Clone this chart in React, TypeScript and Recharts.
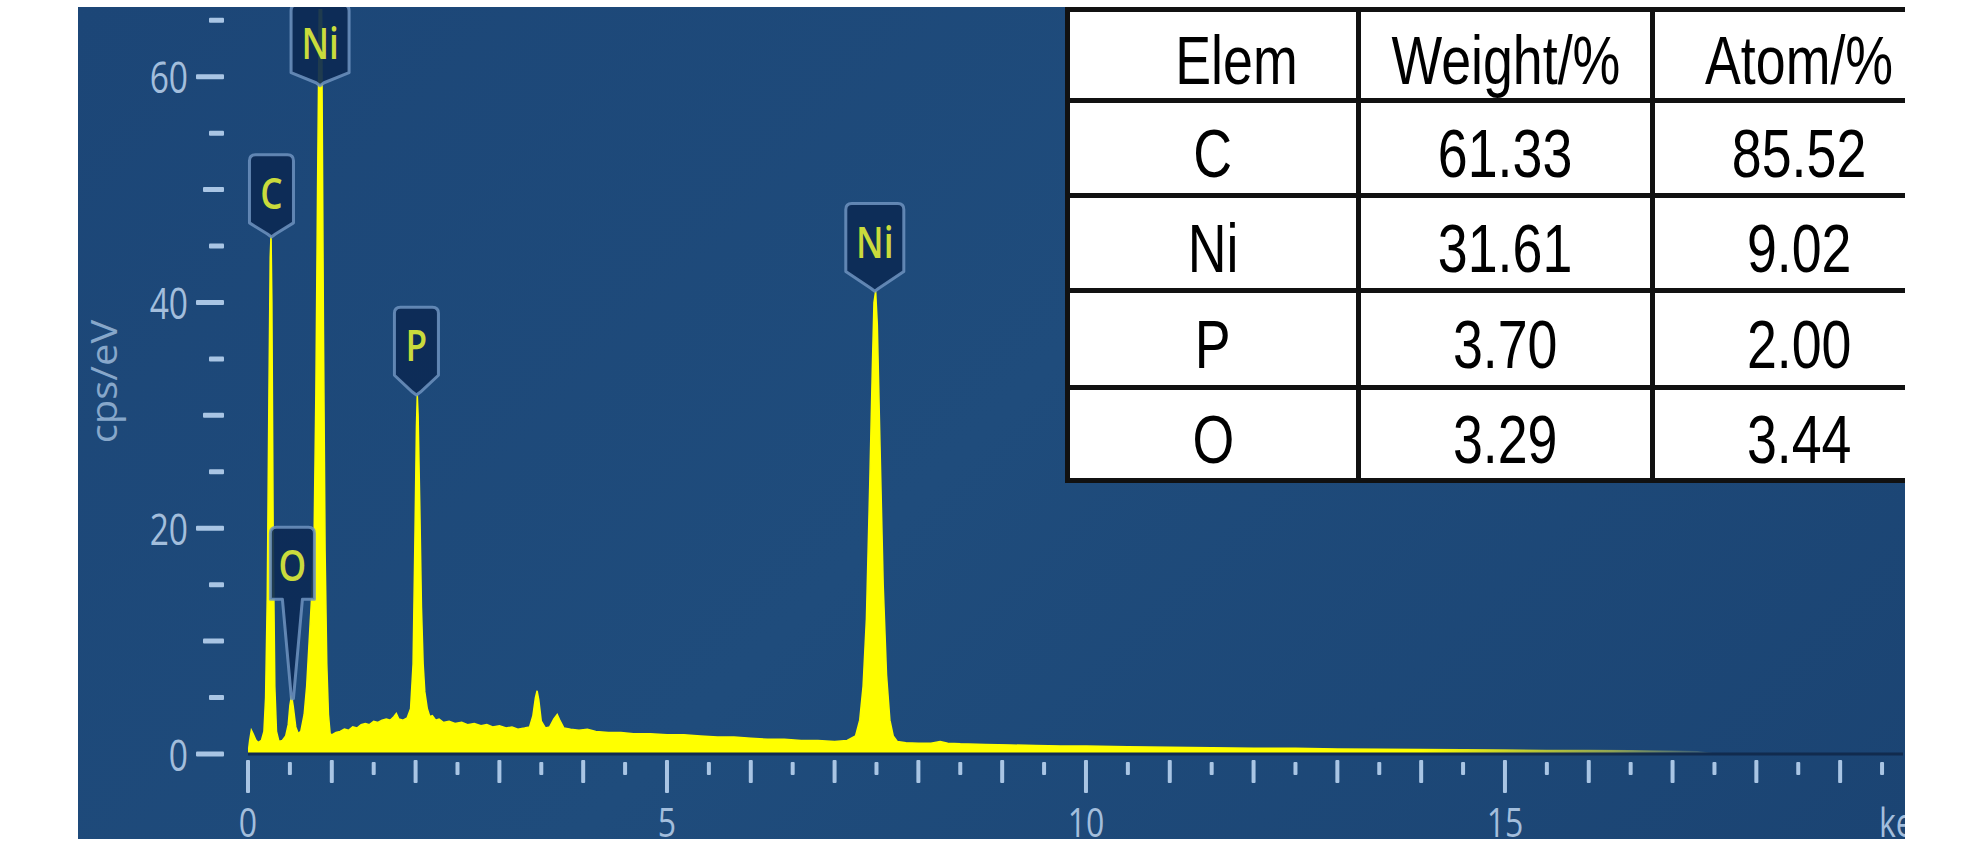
import { ComposedChart, Area, XAxis, YAxis, ReferenceDot } from "recharts";

// EDS spectrum (keV vs cps/eV)
const energy = [
  0.0, 0.02, 0.04, 0.06, 0.09, 0.12, 0.16, 0.19, 0.21, 0.23, 0.25, 0.265, 0.275, 0.285, 0.3, 0.32, 0.34, 0.37,
  0.41, 0.45, 0.48, 0.5, 0.52, 0.54, 0.57, 0.6, 0.63, 0.67, 0.7, 0.73, 0.76, 0.79, 0.81, 0.83, 0.85, 0.86,
  0.87, 0.88, 0.9, 0.92, 0.94, 0.96, 0.98, 1.0, 1.05, 1.1, 1.15, 1.2, 1.25, 1.3, 1.35, 1.4, 1.45, 1.5, 1.55,
  1.6, 1.65, 1.7, 1.74, 1.77, 1.8, 1.85, 1.9, 1.94, 1.97, 1.99, 2.01, 2.02, 2.03, 2.05, 2.07, 2.09, 2.11, 2.14,
  2.17, 2.2, 2.24, 2.28, 2.33, 2.4, 2.47, 2.55, 2.62, 2.7, 2.78, 2.85, 2.92, 3.0, 3.08, 3.15, 3.22, 3.3, 3.36,
  3.4, 3.43, 3.45, 3.47, 3.5, 3.55, 3.6, 3.65, 3.69, 3.72, 3.77, 3.85, 3.95, 4.05, 4.15, 4.3, 4.45, 4.6, 4.8,
  5.0, 5.2, 5.4, 5.6, 5.8, 6.0, 6.2, 6.4, 6.6, 6.8, 7.0, 7.15, 7.25, 7.3, 7.34, 7.38, 7.42, 7.45, 7.47, 7.49,
  7.51, 7.54, 7.58, 7.62, 7.66, 7.7, 7.75, 7.85, 8.0, 8.15, 8.26, 8.35, 8.5, 8.8, 9.1, 9.4, 9.7, 10.0, 10.5,
  11.0, 11.5, 12.0, 12.5, 13.0, 13.5, 14.0, 14.5, 15.0, 15.5, 16.0, 16.5, 17.0, 17.3, 17.5,
];
const counts = [
  0, 1.2, 2.1, 1.8, 1.3, 1.0, 1.2, 2.0, 5.0, 14, 32, 44, 46, 40, 20, 6, 2, 1.1,
  1.2, 1.6, 2.6, 4.3, 5.2, 4.2, 2.4, 1.8, 2.0, 3.5, 6, 10, 14, 20, 32, 50, 66, 78,
  78, 64, 38, 18, 8, 3.5, 1.8, 1.7, 1.9, 2.0, 2.2, 2.1, 2.4, 2.3, 2.6, 2.7, 2.6, 2.9, 2.8,
  3.0, 3.1, 3.0, 3.3, 3.6, 3.1, 3.0, 3.2, 4.0, 8, 18, 29, 31.8, 30, 22, 13, 8, 5.5, 4.0,
  3.3, 3.4, 3.0, 3.1, 2.8, 2.9, 2.7, 2.8, 2.6, 2.7, 2.5, 2.6, 2.4, 2.5, 2.3, 2.4, 2.2, 2.3, 2.4,
  3.4, 5.0, 5.6, 4.8, 2.9, 2.3, 2.4, 3.1, 3.5, 3.0, 2.3, 2.2, 2.1, 2.2, 2.0, 1.9, 1.9, 1.8, 1.8,
  1.7, 1.7, 1.6, 1.5, 1.5, 1.4, 1.3, 1.3, 1.2, 1.2, 1.1, 1.2, 1.6, 3, 6, 12, 24, 34, 40, 41,
  38, 28, 15, 7, 3, 1.6, 1.1, 1.0, 0.95, 0.95, 1.1, 0.95, 0.9, 0.85, 0.8, 0.75, 0.7, 0.7, 0.65,
  0.6, 0.55, 0.5, 0.5, 0.45, 0.42, 0.4, 0.38, 0.35, 0.32, 0.3, 0.28, 0.25, 0.2, 0,
];

// peak tags: element, energy, value at the tag's bottom edge, value the pointer reaches
const peakNames = ["C", "Ni", "O", "P", "Ni"];
const peakEnergy = [0.28, 0.86, 0.53, 2.01, 7.48];
const peakBox = [46.7, 60.0, 13.7, 33.2, 42.4];
const peakTip = [45.8, 59.2, 4.9, 31.8, 41.0];

const xTicks = [
  0, 0.5, 1, 1.5, 2, 2.5, 3, 3.5, 4, 4.5, 5, 5.5, 6, 6.5, 7, 7.5, 8, 8.5, 9, 9.5, 10,
  10.5, 11, 11.5, 12, 12.5, 13, 13.5, 14, 14.5, 15, 15.5, 16, 16.5, 17, 17.5, 18, 18.5, 19, 19.5,
];
const yTicks = [0, 5, 10, 15, 20, 25, 30, 35, 40, 45, 50, 55, 60, 65];

const tableHead = ["Elem", "Weight/%", "Atom/%"];
const tableElems = ["C", "Ni", "P", "O"];
const weightPct = ["61.33", "31.61", "3.70", "3.29"];
const atomPct = ["85.52", "9.02", "2.00", "3.44"];

const spectrum = energy.map((e, i) => ({ keV: e, cps: counts[i] }));

const Y_MAX = 66;
const PLOT_TOP = 9;
const PLOT_BOTTOM = 754;
const PX_PER_UNIT = (PLOT_BOTTOM - PLOT_TOP) / Y_MAX;

const tickColor = "#a9c5e4";
const labelColor = "#a3bedc";
const axisFont = "'Open Sans', 'DejaVu Sans', sans-serif";

const XTick = (props: any) => {
  const { x, y, payload } = props;
  const v = payload.value;
  const major = v % 5 === 0;
  const whole = v % 1 === 0;
  const y0 = whole ? y + 6 : y + 8;
  const y1 = major ? y + 39 : whole ? y + 29 : y + 21;
  return (
    <g>
      <rect x={x - 2} y={y0} width={4} height={y1 - y0} rx={1} fill={tickColor} />
      {major && (
        <text
          transform={`translate(${x} ${y + 83}) scale(0.8 1)`}
          textAnchor="middle"
          fontFamily={axisFont}
          fontSize={40}
          fill={labelColor}
        >
          {v}
        </text>
      )}
      {v === 19.5 && (
        <text
          transform={`translate(${x - 3} ${y + 83}) scale(0.8 1)`}
          textAnchor="start"
          fontFamily={axisFont}
          fontSize={40}
          fill={labelColor}
        >
          keV
        </text>
      )}
    </g>
  );
};

const YTick = (props: any) => {
  const { x, y, payload } = props;
  const v = payload.value;
  const len = v % 20 === 0 ? 28 : v % 10 === 0 ? 21 : 15;
  return (
    <g>
      <rect x={x - 24 - len} y={y - 2.5} width={len} height={5} rx={1} fill={tickColor} />
      {v % 20 === 0 && (
        <text
          transform={`translate(${x - 60} ${y}) scale(0.78 1)`}
          textAnchor="end"
          dominantBaseline="central"
          fontFamily={axisFont}
          fontSize={43}
          fill={labelColor}
        >
          {v}
        </text>
      )}
    </g>
  );
};

const PeakTag = ({ cx, cy, name, boxValue, tipValue }: any) => {
  if (cx == null || cy == null) return null;
  const w = name.length > 1 ? 58 : 44;
  const h = 72;
  const r = 6;
  const bottom = cy - (boxValue - tipValue) * PX_PER_UNIT;
  const top = bottom - h;
  const l = cx - w / 2;
  const rt = cx + w / 2;
  const longStem = cy - bottom > 30;
  let d: string;
  if (longStem) {
    d = `M${l + r},${top} H${rt - r} Q${rt},${top} ${rt},${top + r} V${bottom} H${cx + 10} L${cx + 1},${cy} L${cx - 1},${cy} L${cx - 10},${bottom} H${l} V${top + r} Q${l},${top} ${l + r},${top} Z`;
  } else {
    d = `M${l + r},${top} H${rt - r} Q${rt},${top} ${rt},${top + r} V${bottom - 4} L${cx + 4},${cy - 3} L${cx},${cy} L${cx - 4},${cy - 3} L${l},${bottom - 4} V${top + r} Q${l},${top} ${l + r},${top} Z`;
  }
  return (
    <g>
      <path d={d} fill="#0c2a55" fillOpacity={0.92} stroke="#6f93c0" strokeOpacity={0.85} strokeWidth={3} strokeLinejoin="round" />
      <text
        transform={`translate(${cx} ${bottom - 35}) scale(0.8 1)`}
        textAnchor="middle"
        dominantBaseline="central"
        fontFamily={axisFont}
        fontWeight={600}
        fontSize={44}
        fill="#cadb3c"
      >
        {name}
      </text>
    </g>
  );
};

const cellText: React.CSSProperties = {
  display: "inline-block",
  transform: "scaleX(0.79)",
};

const tdStyle: React.CSSProperties = {
  border: "5px solid #111",
  padding: 0,
  paddingTop: 10,
  textAlign: "center",
  verticalAlign: "middle",
  overflow: "hidden",
  whiteSpace: "nowrap",
};

const rowHeights = [91, 95, 95, 97, 93];

export default function App() {
  return (
    <div style={{ position: "absolute", left: 0, top: 0, width: 1984, height: 850, background: "#fff", overflow: "hidden" }}>
      <svg width={0} height={0} style={{ position: "absolute" }}>
        <defs>
          <linearGradient id="specFill" x1="0" y1="0" x2="1" y2="0">
            <stop offset="0" stopColor="#ffff00" />
            <stop offset="0.8" stopColor="#ffff00" />
            <stop offset="0.93" stopColor="#9fb050" stopOpacity={0.85} />
            <stop offset="1" stopColor="#4e6e80" stopOpacity={0.4} />
          </linearGradient>
        </defs>
      </svg>
      <div
        style={{
          position: "absolute",
          left: 78,
          top: 7,
          width: 1827,
          height: 832,
          overflow: "hidden",
          background: "linear-gradient(135deg, #1c4677 0%, #1f4c7c 50%, #1b4473 100%)",
        }}
      >
        <div style={{ position: "absolute", left: -78, top: -7, width: 1984, height: 850 }}>
          <ComposedChart
            width={1984}
            height={850}
            data={spectrum}
            margin={{ top: PLOT_TOP, right: 81, bottom: 6, left: 0 }}
          >
            <XAxis
              dataKey="keV"
              type="number"
              domain={[0, 19.75]}
              allowDataOverflow
              ticks={xTicks}
              interval={0}
              height={90}
              tickSize={0}
              tickMargin={0}
              tickLine={false}
              axisLine={{ stroke: "#112b4e", strokeWidth: 3 }}
              tick={<XTick />}
            />
            <YAxis
              type="number"
              domain={[0, Y_MAX]}
              allowDataOverflow
              ticks={yTicks}
              interval={0}
              width={248}
              tickSize={0}
              tickMargin={0}
              tickLine={false}
              axisLine={false}
              tick={<YTick />}
              label={{
                content: (p: any) => {
                  const vb = p.viewBox || { x: 0, y: PLOT_TOP, height: PLOT_BOTTOM - PLOT_TOP };
                  const cy = vb.y + vb.height / 2;
                  return (
                    <text
                      transform={`translate(${vb.x + 117} ${cy}) rotate(-90) scale(1 0.9)`}
                      textAnchor="middle"
                      fontFamily={axisFont}
                      fontSize={40}
                      fill="#87a7ca"
                    >
                      cps/eV
                    </text>
                  );
                },
              }}
            />
            <Area
              type="linear"
              dataKey="cps"
              baseValue={0}
              fill="url(#specFill)"
              fillOpacity={1}
              stroke="url(#specFill)"
              strokeWidth={1.5}
              dot={false}
              activeDot={false}
              isAnimationActive={false}
            />
            {peakNames.map((name, i) => (
              <ReferenceDot
                key={`tag-${i}`}
                x={peakEnergy[i]}
                y={peakTip[i]}
                ifOverflow="visible"
                shape={(p: any) => (
                  <PeakTag cx={p.cx} cy={p.cy} name={name} boxValue={peakBox[i]} tipValue={peakTip[i]} />
                )}
              />
            ))}
          </ComposedChart>
          <table
            style={{
              position: "absolute",
              left: 1065,
              top: 7,
              borderCollapse: "collapse",
              tableLayout: "fixed",
              width: 879,
              background: "#fff",
              fontFamily: "'Liberation Sans', Arial, sans-serif",
              fontSize: 68,
              color: "#000",
              lineHeight: 1,
            }}
          >
            <colgroup>
              <col style={{ width: 291 }} />
              <col style={{ width: 294 }} />
              <col style={{ width: 294 }} />
            </colgroup>
            <tbody>
              <tr style={{ height: rowHeights[0] }}>
                {tableHead.map((h, i) => (
                  <td key={h} style={{ ...tdStyle, paddingLeft: i === 0 ? 46 : 0 }}>
                    <span style={cellText}>{h}</span>
                  </td>
                ))}
              </tr>
              {tableElems.map((el, r) => (
                <tr key={el} style={{ height: rowHeights[r + 1] }}>
                  <td style={tdStyle}>
                    <span style={cellText}>{el}</span>
                  </td>
                  <td style={tdStyle}>
                    <span style={cellText}>{weightPct[r]}</span>
                  </td>
                  <td style={tdStyle}>
                    <span style={cellText}>{atomPct[r]}</span>
                  </td>
                </tr>
              ))}
            </tbody>
          </table>
        </div>
      </div>
    </div>
  );
}
